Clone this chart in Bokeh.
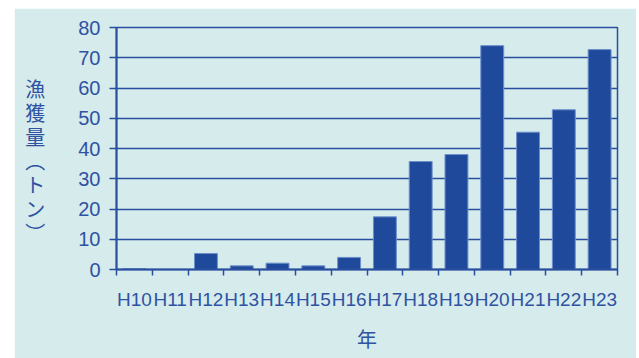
from bokeh.plotting import figure
from bokeh.models import Range1d, FixedTicker
from bokeh.embed import file_html
from bokeh.resources import INLINE

# Annual catch (tonnes) by fiscal year (Heisei)
years = ["H10", "H11", "H12", "H13", "H14", "H15", "H16",
         "H17", "H18", "H19", "H20", "H21", "H22", "H23"]
catch_tons = [0.3, 0.0, 5.3, 1.2, 2.1, 1.2, 4.0,
              17.4, 35.7, 38.0, 74.0, 45.4, 52.8, 72.7]
y_ticks = [0, 10, 20, 30, 40, 50, 60, 70, 80]
y_title_chars = ["漁", "獲", "量", "︵", "ト", "ン", "︶"]
x_title = "年"

BG = "#d5ebec"
BLUE = "#1f4a9c"
LINE = "#2b4f9e"
TEXT = "#2f52a2"
NUM_FONT = "'Liberation Sans', sans-serif"
JP_FONT = "'Noto Sans CJK JP', sans-serif"

xs = list(range(1, len(years) + 1))

p = figure(width=622, height=350, output_backend="svg", toolbar_location=None,
           x_range=Range1d(0.5, len(years) + 0.5), y_range=Range1d(0, 80),
           min_border_left=102, min_border_right=19,
           min_border_top=19, min_border_bottom=89)
p.margin = (8, 3, 0, 14)
p.background_fill_color = BG
p.border_fill_color = BG
p.outline_line_color = LINE
p.outline_line_width = 1.5

p.vbar(x=xs, top=catch_tons, width=0.64, fill_color=BLUE,
       line_color="#6f8fcb", line_width=1)

# x axis: labels under each bar, tick marks between bars
p.xaxis.ticker = FixedTicker(ticks=xs, minor_ticks=[x + 0.5 for x in range(len(years) + 1)])
p.xaxis.major_label_overrides = {x: y for x, y in zip(xs, years)}
p.xaxis.major_tick_out = 0
p.xaxis.major_tick_in = 0
p.xaxis.minor_tick_out = 6
p.xaxis.minor_tick_in = 0
p.xaxis.minor_tick_line_color = LINE
p.xaxis.minor_tick_line_width = 1.5
p.xaxis.major_label_standoff = 13
p.xaxis.major_label_text_font_size = "19px"
p.xaxis.axis_label = x_title
p.xaxis.axis_label_text_font = JP_FONT
p.xaxis.axis_label_text_font_size = "20px"
p.xaxis.axis_label_text_font_style = "normal"
p.xaxis.axis_label_text_color = TEXT
p.xaxis.axis_label_standoff = 11

# y axis
p.yaxis.ticker = FixedTicker(ticks=y_ticks, minor_ticks=[])
p.yaxis.major_tick_out = 7
p.yaxis.major_tick_in = 0
p.yaxis.major_label_standoff = 9
p.yaxis.major_label_text_font_size = "20px"

for ax in (p.xaxis, p.yaxis):
    ax.axis_line_color = LINE
    ax.axis_line_width = 2
    ax.major_tick_line_color = LINE
    ax.major_tick_line_width = 1.5
    ax.major_label_text_font = NUM_FONT
    ax.major_label_text_color = TEXT

# vertical y-axis title, one character per line (leading blank line
# nudges the stack a little below the frame's middle)
yax = p.yaxis[0]
yax.axis_label = "\n".join(["\u3000"] + y_title_chars)
if "axis_label_orientation" in yax.properties():
    yax.axis_label_orientation = "horizontal"
yax.axis_label_text_font = JP_FONT
yax.axis_label_text_font_size = "20px"
yax.axis_label_text_font_style = "normal"
yax.axis_label_text_line_height = 0.83
yax.axis_label_text_color = TEXT
yax.axis_label_standoff = 30

p.xgrid.visible = False
p.ygrid.grid_line_color = LINE
p.ygrid.grid_line_width = 1.5

open("out.html", "w").write(file_html(p, INLINE))
